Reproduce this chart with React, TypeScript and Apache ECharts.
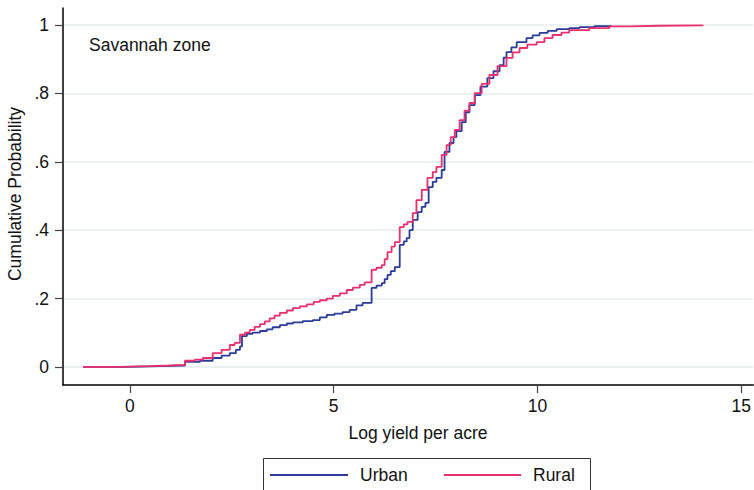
import React, { useEffect, useRef } from "react";
import * as echarts from "echarts";

const urbanX = [-1.15, -0.05, 0.74, 1.35, 1.72, 2.03, 2.25, 2.45, 2.6, 2.7, 2.75, 2.87, 3.01, 3.19, 3.36, 3.5, 3.68, 3.85, 4.0, 4.24, 4.49, 4.66, 4.83, 5.02, 5.22, 5.39, 5.56, 5.71, 5.93, 6.05, 6.18, 6.25, 6.32, 6.4, 6.5, 6.62, 6.72, 6.79, 6.86, 6.94, 7.06, 7.16, 7.25, 7.33, 7.43, 7.52, 7.65, 7.72, 7.84, 7.94, 8.01, 8.14, 8.24, 8.33, 8.46, 8.6, 8.77, 8.92, 9.07, 9.17, 9.24, 9.36, 9.49, 9.73, 9.88, 10.05, 10.25, 10.47, 10.78, 11.03, 11.4, 11.79];
const urbanY = [0, 0.002, 0.004, 0.015, 0.018, 0.026, 0.033, 0.04, 0.05, 0.06, 0.09, 0.097, 0.1, 0.105, 0.11, 0.116, 0.122, 0.127, 0.13, 0.134, 0.137, 0.145, 0.152, 0.156, 0.16, 0.167, 0.18, 0.187, 0.231, 0.238, 0.245, 0.257, 0.269, 0.28, 0.292, 0.357, 0.367, 0.377, 0.4, 0.43, 0.453, 0.468, 0.48, 0.526, 0.541, 0.553, 0.576, 0.629, 0.655, 0.672, 0.69, 0.716, 0.745, 0.766, 0.795, 0.82, 0.845, 0.865, 0.883, 0.905, 0.921, 0.935, 0.95, 0.962, 0.97, 0.977, 0.983, 0.988, 0.991, 0.994, 0.997, 1.0];

const ruralX = [-1.15, -0.29, 0.49, 0.98, 1.35, 1.59, 1.79, 2.03, 2.25, 2.45, 2.57, 2.7, 2.82, 2.94, 3.06, 3.19, 3.31, 3.43, 3.55, 3.68, 3.85, 4.0, 4.17, 4.34, 4.51, 4.66, 4.83, 4.98, 5.15, 5.32, 5.47, 5.64, 5.76, 5.93, 6.05, 6.18, 6.25, 6.32, 6.42, 6.5, 6.62, 6.72, 6.81, 6.94, 7.03, 7.16, 7.3, 7.43, 7.52, 7.65, 7.77, 7.87, 7.97, 8.09, 8.21, 8.33, 8.46, 8.63, 8.82, 9.02, 9.24, 9.39, 9.56, 9.75, 9.98, 10.17, 10.37, 10.59, 10.78, 11.27, 11.76, 12.25, 12.99, 14.07];
const ruralY = [0, 0.002, 0.004, 0.006, 0.018, 0.021, 0.026, 0.04, 0.05, 0.064, 0.07, 0.094, 0.1, 0.108, 0.117, 0.125, 0.133, 0.142, 0.15, 0.158, 0.165, 0.172, 0.177, 0.183, 0.19, 0.195, 0.2, 0.208, 0.215, 0.225, 0.232, 0.24, 0.247, 0.284, 0.29, 0.298, 0.315, 0.336, 0.352, 0.365, 0.409, 0.417, 0.424, 0.45, 0.488, 0.518, 0.553, 0.57, 0.585, 0.62, 0.649, 0.672, 0.693, 0.722, 0.75, 0.772, 0.801, 0.828, 0.854, 0.88, 0.904, 0.92, 0.933, 0.943, 0.95, 0.962, 0.971, 0.978, 0.985, 0.991, 0.996, 0.998, 0.999, 1.0];

const xTicks = [0, 5, 10, 15];
const yTicks = [0, 0.2, 0.4, 0.6, 0.8, 1];
const seriesNames = ["Urban", "Rural"];
const panelLabel = "Savannah zone";
const xTitle = "Log yield per acre";
const yTitle = "Cumulative Probability";

const FONT = "'Liberation Sans', Arial, Helvetica, sans-serif";
const BLUE = "#2a3b9a";
const PINK = "#e92f6d";

function pairs(xs: number[], ys: number[]) {
  return xs.map((x, i) => [x, ys[i]]);
}

function fmtY(v: number) {
  if (v === 0) return "0";
  if (v === 1) return "1";
  return String(Math.round(v * 10) / 10).replace(/^0/, "");
}

export default function App() {
  const ref = useRef<HTMLDivElement>(null);
  useEffect(() => {
    const chart = echarts.init(ref.current!, null, { renderer: "svg" });
    const legendY = 475;
    chart.setOption({
      animation: false,
      backgroundColor: "#ffffff",
      textStyle: { fontFamily: FONT },
      grid: { left: 63, top: 8, right: 0, bottom: 105, containLabel: false },
      xAxis: {
        type: "value",
        min: -1.642,
        max: 15.294,
        axisLine: { show: true, onZero: false, lineStyle: { color: "#000", width: 1.5 } },
        axisTick: { show: true, length: 8, customValues: xTicks, lineStyle: { color: "#444", width: 1.2 } },
        axisLabel: { customValues: xTicks, margin: 12, fontSize: 17.5, color: "#111", fontFamily: FONT },
        splitLine: { show: false },
      },
      yAxis: {
        type: "value",
        min: -0.053,
        max: 1.05,
        axisLine: { show: true, onZero: false, lineStyle: { color: "#000", width: 1.5 } },
        axisTick: { show: true, length: 8, customValues: yTicks, lineStyle: { color: "#444", width: 1.2 } },
        axisLabel: { customValues: yTicks, margin: 14, fontSize: 17.5, color: "#111", fontFamily: FONT, formatter: fmtY },
        splitLine: { show: true, lineStyle: { color: "#e4ecef", width: 1.5 } },
      },
      graphic: [
        {
          type: "text",
          left: 89,
          top: 36,
          style: { text: panelLabel, fontSize: 17.5, fill: "#111", fontFamily: FONT },
        },
        {
          type: "text",
          x: 15,
          y: 194,
          rotation: Math.PI / 2,
          style: { text: yTitle, fontSize: 17.5, fill: "#111", fontFamily: FONT, align: "center", verticalAlign: "middle" },
        },
        {
          type: "text",
          x: 418,
          y: 433,
          style: { text: xTitle, fontSize: 17.5, fill: "#111", fontFamily: FONT, align: "center", verticalAlign: "middle" },
        },
        {
          type: "group",
          children: [
            {
              type: "rect",
              shape: { x: 263.5, y: 458.5, width: 327, height: 50 },
              style: { fill: "#fff", stroke: "#333", lineWidth: 1 },
            },
            {
              type: "line",
              shape: { x1: 270, y1: legendY, x2: 348, y2: legendY },
              style: { stroke: BLUE, lineWidth: 1.8 },
            },
            {
              type: "text",
              x: 360,
              y: legendY,
              style: { text: seriesNames[0], fontSize: 17.5, fill: "#111", fontFamily: FONT, verticalAlign: "middle" },
            },
            {
              type: "line",
              shape: { x1: 444, y1: legendY, x2: 521, y2: legendY },
              style: { stroke: PINK, lineWidth: 1.8 },
            },
            {
              type: "text",
              x: 533,
              y: legendY,
              style: { text: seriesNames[1], fontSize: 17.5, fill: "#111", fontFamily: FONT, verticalAlign: "middle" },
            },
          ],
        },
      ],
      series: [
        {
          name: seriesNames[0],
          type: "line",
          step: "end",
          symbol: "none",
          data: pairs(urbanX, urbanY),
          color: BLUE,
          lineStyle: { color: BLUE, width: 1.8 },
          z: 3,
        },
        {
          name: seriesNames[1],
          type: "line",
          step: "end",
          symbol: "none",
          data: pairs(ruralX, ruralY),
          color: PINK,
          lineStyle: { color: PINK, width: 1.8 },
          z: 4,
        },
      ],
    });
    return () => chart.dispose();
  }, []);
  return (
    <div
      ref={ref}
      style={{ position: "fixed", left: 0, top: 0, width: 754, height: 490, background: "#fff" }}
    />
  );
}
